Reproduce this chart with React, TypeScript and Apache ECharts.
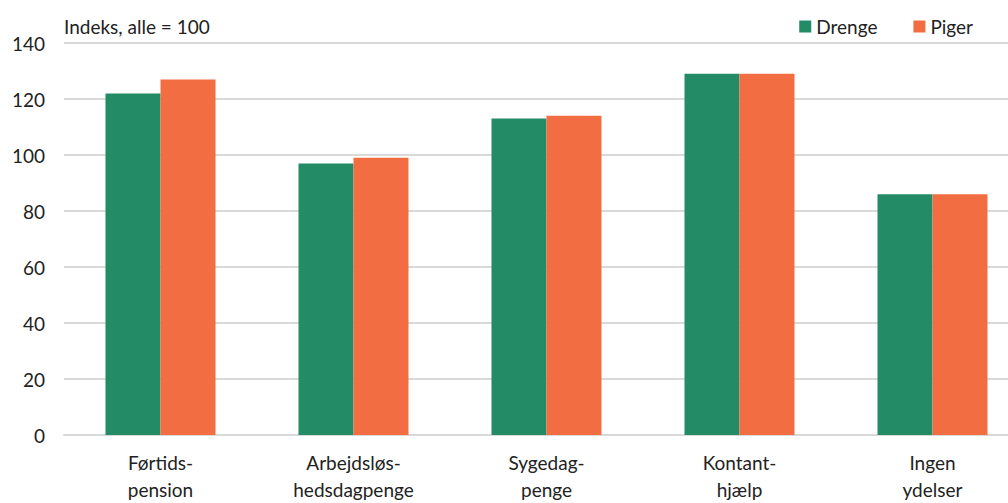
import React, { useEffect, useRef } from "react";
import * as echarts from "echarts";

const categories = ["Førtids-\npension", "Arbejdsløs-\nhedsdagpenge", "Sygedag-\npenge", "Kontant-\nhjælp", "Ingen\nydelser"];
const drenge = [122, 97, 113, 129, 86];
const piger = [127, 99, 114, 129, 86];
const yTicks = { min: 0, max: 140, interval: 20 };
const unitLabel = "Indeks, alle = 100";

const FONT = "Lato";

export default function App() {
  const ref = useRef<HTMLDivElement>(null);
  useEffect(() => {
    document.body.style.margin = "0";
    const chart = echarts.init(ref.current!, null, { renderer: "svg" });
    chart.setOption({
      animation: false,
      textStyle: { fontFamily: FONT },
      title: {
        text: unitLabel,
        left: 59,
        top: 12,
        textStyle: { fontFamily: FONT, fontSize: 19, fontWeight: "normal", color: "#222" },
      },
      legend: {
        right: 50,
        top: 14,
        itemWidth: 12,
        itemHeight: 12,
        itemGap: 36,
        icon: "rect",
        padding: [3, 6],
        textStyle: { fontFamily: FONT, fontSize: 19, color: "#222", padding: [0, 0, 0, 0] },
        data: ["Drenge", "Piger"],
      },
      grid: { left: 64, right: 0, top: 43, bottom: 68, containLabel: false },
      xAxis: {
        type: "category",
        data: categories,
        axisLine: { show: true, lineStyle: { color: "#d9d9d9", width: 2 } },
        axisTick: { show: false },
        axisLabel: {
          fontFamily: FONT,
          fontSize: 19,
          color: "#222",
          lineHeight: 27,
          margin: 14,
          interval: 0,
        },
      },
      yAxis: {
        type: "value",
        min: yTicks.min,
        max: yTicks.max,
        interval: yTicks.interval,
        axisLine: { show: false },
        axisTick: { show: false },
        splitLine: { lineStyle: { color: "#d9d9d9", width: 2 } },
        axisLabel: { fontFamily: FONT, fontSize: 19, color: "#222", margin: 19 },
      },
      series: [
        {
          name: "Drenge",
          type: "bar",
          data: drenge,
          itemStyle: { color: "#238B65" },
          barGap: "0%",
          barCategoryGap: "43%",
        },
        {
          name: "Piger",
          type: "bar",
          data: piger,
          itemStyle: { color: "#F26E42" },
          barGap: "0%",
          barCategoryGap: "43%",
        },
      ],
    });
    return () => chart.dispose();
  }, []);
  return (
    <div style={{ width: 1008, height: 503, overflow: "hidden", position: "relative" }}>
      <div ref={ref} style={{ width: 1029, height: 503 }} />
    </div>
  );
}
